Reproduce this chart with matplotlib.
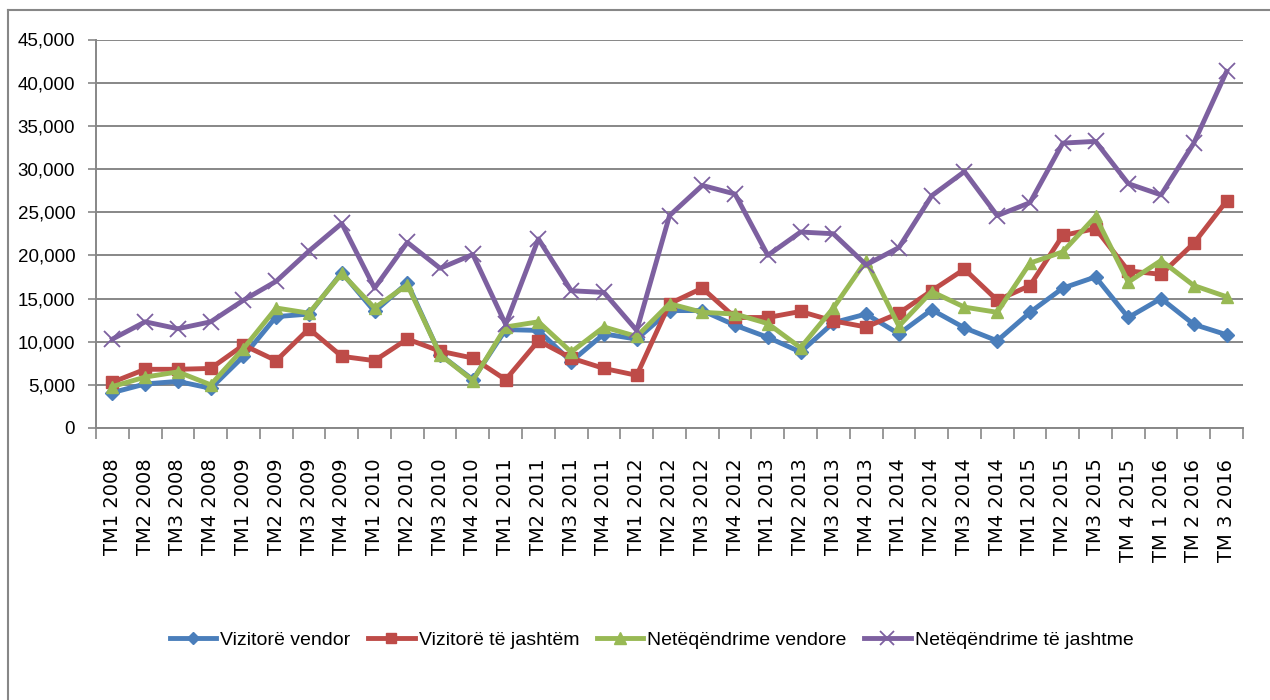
import matplotlib.pyplot as plt
from matplotlib.lines import Line2D
from matplotlib.ticker import FuncFormatter, MultipleLocator, FixedLocator

quarters = ["TM1 2008", "TM2 2008", "TM3 2008", "TM4 2008",
            "TM1 2009", "TM2 2009", "TM3 2009", "TM4 2009",
            "TM1 2010", "TM2 2010", "TM3 2010", "TM4 2010",
            "TM1 2011", "TM2 2011", "TM3 2011", "TM4 2011",
            "TM1 2012", "TM2 2012", "TM3 2012", "TM4 2012",
            "TM1 2013", "TM2 2013", "TM3 2013", "TM4 2013",
            "TM1 2014", "TM2 2014", "TM3 2014", "TM4 2014",
            "TM1 2015", "TM2 2015", "TM3 2015", "TM 4 2015",
            "TM 1 2016", "TM 2 2016", "TM 3 2016"]

vizitore_vendor = [4100, 5100, 5400, 4600, 8300, 12900, 13200, 18000, 13500, 16800,
                   8500, 5600, 11400, 11300, 7700, 10900, 10300, 13600, 13600, 11900,
                   10500, 8800, 12200, 13200, 10900, 13700, 11600, 10100, 13400, 16200,
                   17500, 12800, 15000, 12000, 10800]
vizitore_jashtem = [5300, 6800, 6800, 6900, 9600, 7800, 11500, 8300, 7800, 10300,
                    8900, 8100, 5600, 10100, 8100, 6900, 6100, 14400, 16200, 12800,
                    12800, 13500, 12400, 11700, 13300, 15900, 18400, 14800, 16500, 22300,
                    23100, 18200, 17800, 21400, 26300]
neteqendrime_vendore = [4800, 5900, 6500, 5000, 9200, 13900, 13300, 17900, 13900, 16600,
                        8500, 5500, 11700, 12300, 8800, 11700, 10600, 14400, 13400, 13200,
                        12100, 9300, 13900, 19400, 11800, 15800, 14000, 13400, 19100, 20400,
                        24500, 16900, 19400, 16500, 15200]
neteqendrime_jashtme = [10300, 12300, 11500, 12300, 14800, 17000, 20500, 23700, 16200, 21500,
                        18500, 20100, 12000, 21900, 15900, 15700, 11300, 24600, 28100, 27100,
                        20000, 22700, 22500, 18900, 20900, 26900, 29700, 24600, 26100, 33000,
                        33200, 28300, 27000, 33000, 41300]

names = ["Vizitorë vendor", "Vizitorë të jashtëm", "Netëqëndrime vendore", "Netëqëndrime të jashtme"]

grey = "#878787"
narrow = "Liberation Sans"

fig = plt.figure(figsize=(12.7, 7), dpi=100)
ax = fig.add_axes([96 / 1270, 1 - 428 / 700, (1243 - 96) / 1270, (428 - 39.5) / 700])

x = list(range(len(quarters)))
ax.plot(x, vizitore_vendor, color="#4A7EBB", lw=3.5, marker="D", ms=7,
        label=names[0], solid_joinstyle="round")
ax.plot(x, vizitore_jashtem, color="#BE4B48", lw=3.5, marker="s", ms=8,
        label=names[1], solid_joinstyle="round")
ax.plot(x, neteqendrime_vendore, color="#98B954", lw=3.5, marker="^", ms=9,
        label=names[2], solid_joinstyle="round")
ax.plot(x, neteqendrime_jashtme, color="#7D60A0", lw=3.5, marker="x", ms=11, mew=1.3,
        label=names[3], solid_joinstyle="round")

ax.set_xlim(-0.5, len(quarters) - 0.5)
ax.set_ylim(0, 45000)
ax.yaxis.set_major_locator(MultipleLocator(5000))
ax.yaxis.set_major_formatter(FuncFormatter(lambda v, p: f"{int(v):,}"))
ax.grid(axis="y", color=grey, lw=1.4)
ax.set_axisbelow(True)

ax.xaxis.set_major_locator(FixedLocator(x))
ax.set_xticklabels(quarters, rotation=90, fontsize=14, va="top", ha="center")
ax.xaxis.set_minor_locator(FixedLocator([i - 0.5 for i in range(len(quarters) + 1)]))
ax.tick_params(axis="x", which="major", length=0, pad=22)
ax.tick_params(axis="x", which="minor", length=8, width=1.2, color=grey)
ax.tick_params(axis="y", length=6, width=1.2, color=grey, pad=9, labelsize=13.5)
for lab in ax.get_yticklabels():
    lab.set_family(narrow)

for s in ["top", "right"]:
    ax.spines[s].set_visible(False)
for s in ["left", "bottom"]:
    ax.spines[s].set_color(grey)
    ax.spines[s].set_linewidth(1.4)

# outer chart frame (only left and top edges visible)
fig.add_artist(Line2D([8 / 1270, 8 / 1270], [0, 1 - 10 / 700], color=grey, lw=1.5))
fig.add_artist(Line2D([8 / 1270, 1], [1 - 10 / 700, 1 - 10 / 700], color=grey, lw=1.5))

fig.legend(loc="center", bbox_to_anchor=(0.513, 1 - 640 / 700), ncol=4, frameon=False,
           prop={"family": narrow, "size": 14}, handlelength=2.4, columnspacing=0.9,
           handletextpad=0.2, markerscale=0.9)

fig.savefig("out.png", dpi=100)
